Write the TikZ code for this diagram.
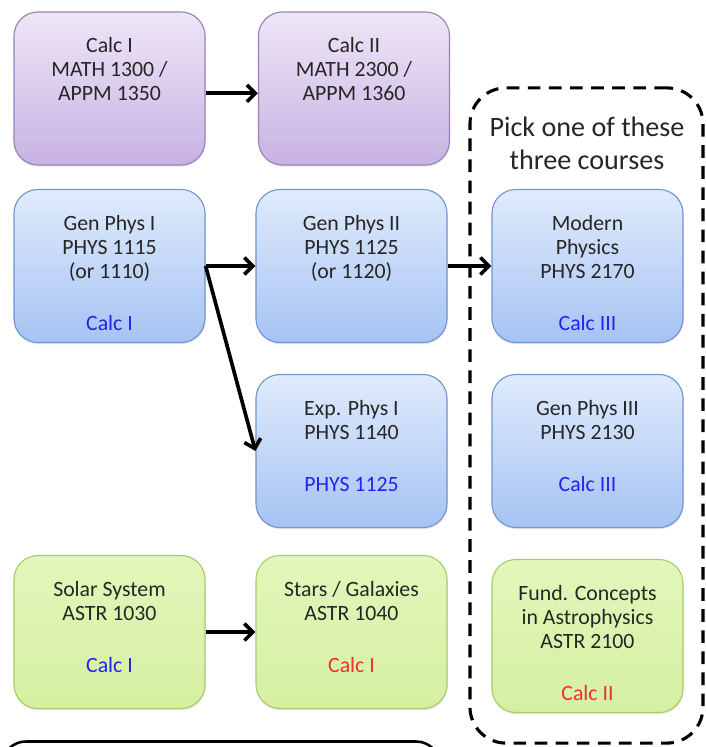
\documentclass[tikz,border=0pt]{standalone}
\usepackage{fontspec}
\setmainfont{Carlito}
\usetikzlibrary{shadows,arrows.meta}

\definecolor{calcline}{HTML}{9A80BE}
\definecolor{calctop}{HTML}{EEE6F7}
\definecolor{calcbot}{HTML}{C8B2E3}
\definecolor{physline}{HTML}{6E96D0}
\definecolor{phystop}{HTML}{E0EBFC}
\definecolor{physbot}{HTML}{A6C3F3}
\definecolor{astroline}{HTML}{A8CC6C}
\definecolor{astrotop}{HTML}{E3F6BB}
\definecolor{astrobot}{HTML}{D5F0A2}
\definecolor{needblue}{HTML}{2323EE}
\definecolor{needred}{HTML}{EE3030}

\newcommand{\needb}[1]{\textcolor{needblue}{#1}}
\newcommand{\needr}[1]{\textcolor{needred}{#1}}
% text of a course box, hung from its first line
\newcommand{\crs}[1]{\parbox[t]{4.6cm}{\centering #1}}

\tikzset{
  course/.style={draw, line width=0.8pt, rounded corners=0.6cm,
    minimum width=4.775cm, inner ysep=0pt, inner xsep=0pt,
    text height=1.02cm, text depth=2.805cm, text=black!85,
    font=\fontsize{15.5}{17}\selectfont,
    drop shadow={opacity=0.2, shadow xshift=0.4pt, shadow yshift=-1.2pt}},
  calc/.style={course, draw=calcline, top color=calctop, bottom color=calcbot},
  phys/.style={course, draw=physline, top color=phystop, bottom color=physbot},
  astro/.style={course, draw=astroline, top color=astrotop, bottom color=astrobot},
  prereq/.style={-{Straight Barb[length=6pt,width=12pt]}, line width=2.6pt},
  pickbox/.style={draw, line width=2.2pt, dash pattern=on 9pt off 6pt,
    rounded corners=0.9cm, minimum width=5.825cm, minimum height=16.375cm}
}

\begin{document}
\begin{tikzpicture}[x=0.025cm, y=-0.025cm]
  \useasboundingbox (0,0) rectangle (705,747);

  \node (choice) at (586.5,415.5) [pickbox] {};
  \node (pick)   at (587,143) [font=\fontsize{20}{23.5}\selectfont, text=black!85, align=center]
    {Pick one of these\\three courses};

  \node (calcI)  at (109.5,88.5) [calc] {\crs{Calc I\\MATH 1300 /\\APPM 1350}};
  \node (calcII) at (354,88.5)   [calc] {\crs{Calc II\\MATH 2300 /\\APPM 1360}};

  \node (genI)   at (109.5,266)  [phys] {\crs{Gen Phys I\\PHYS 1115\\(or 1110)\\[20pt]\needb{Calc I}}};
  \node (genII)  at (351.5,266)  [phys] {\crs{Gen Phys II\\PHYS 1125\\(or 1120)}};
  \node (expI)   at (351.5,451)  [phys] {\crs{Exp. Phys I\\PHYS 1140\\[20pt]\needb{PHYS 1125}}};
  \node (modern) at (587.5,266)  [phys] {\crs{Modern\\Physics\\PHYS 2170\\[20pt]\needb{Calc III}}};
  \node (genIII) at (587.5,451)  [phys] {\crs{Gen Phys III\\PHYS 2130\\[20pt]\needb{Calc III}}};

  \node (solar)  at (109.5,632)  [astro] {\crs{Solar System\\ASTR 1030\\[20pt]\needb{Calc I}}};
  \node (stars)  at (351.5,632)  [astro] {\crs{Stars / Galaxies\\ASTR 1040\\[20pt]\needr{Calc I}}};
  \node (fund)   at (587.5,636)  [astro] {\crs{Fund. Concepts\\in Astrophysics\\ASTR 2100\\[20pt]\needr{Calc II}}};

  \node (next)   at (221,801.5) [draw, line width=1.8pt, rounded corners=0.6cm,
    minimum width=10.95cm, minimum height=3cm] {};

  \draw[prereq] ([yshift=-0.12cm]calcI.east) -- ([yshift=-0.12cm]calcII.west);
  \draw[prereq] (genI.east) -- (genII.west);
  \draw[prereq] (genI.east) -- (expI.west);
  \draw[prereq] (genII) -- (modern);
  \draw[prereq] (solar) -- (stars);
\end{tikzpicture}
\end{document}
